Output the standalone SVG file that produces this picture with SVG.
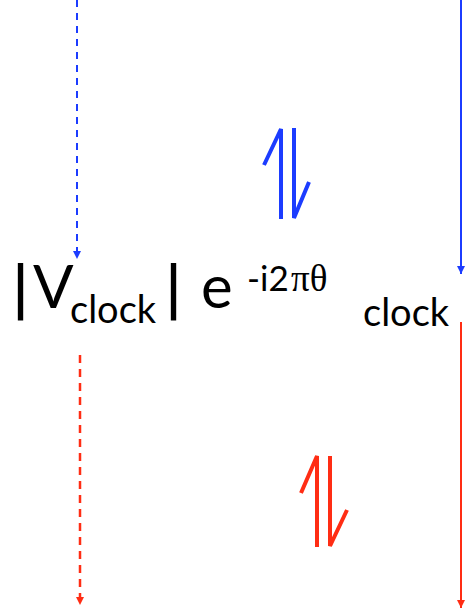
<svg xmlns="http://www.w3.org/2000/svg" width="465" height="611" viewBox="0 0 465 611">
<style>
.big{font-family:Lato,"Open Sans","Liberation Sans",sans-serif;font-size:60px;fill:#000}
.bar{stroke:#000;stroke-width:1.2}
.sub{font-family:Lato,"Open Sans","Liberation Sans",sans-serif;font-size:38px;fill:#000}
.exp{font-family:Lato,"Open Sans","Liberation Sans",sans-serif;font-size:35px;fill:#000}
.greek{font-family:"Liberation Serif","Times New Roman",serif;font-size:37px;fill:#000}
.blue{stroke:#1c3cff;fill:none}
.red{stroke:#ff2d14;fill:none}
.harp{stroke-width:4;stroke-linecap:butt;stroke-linejoin:miter}
</style>
<defs>
<marker id="ab" markerWidth="10" markerHeight="8" refX="8" refY="4" orient="auto" markerUnits="userSpaceOnUse"><path d="M0,0 L8,4 L0,8 z" fill="#1c3cff"/></marker>
<marker id="ar" markerWidth="10" markerHeight="8" refX="8" refY="4" orient="auto" markerUnits="userSpaceOnUse"><path d="M0,0 L8,4 L0,8 z" fill="#ff2d14"/></marker>
</defs>
<g id="connectors">
<line class="blue" x1="77" y1="0" x2="77" y2="259" stroke-width="2" stroke-dasharray="7 6" marker-end="url(#ab)"/>
<line class="blue" x1="461" y1="0" x2="461" y2="274" stroke-width="2" marker-end="url(#ab)"/>
<line class="red" x1="80" y1="355" x2="80" y2="605" stroke-width="2.5" stroke-dasharray="8 6" marker-end="url(#ar)"/>
<line class="red" x1="461" y1="322" x2="461" y2="608" stroke-width="2" marker-end="url(#ar)"/>
</g>
<g id="harpoon-blue">
<path class="blue harp" d="M264,165 L281,129 L281,219"/>
<path class="blue harp" d="M294,128 L294,218 L309,182"/>
</g>
<g id="harpoon-red">
<path class="red harp" d="M301,493 L317,456 L317,547"/>
<path class="red harp" d="M330,456 L330,546 L347,510"/>
</g>
<g id="formula">
<text class="big bar" x="13" y="310">|</text>
<text class="big" x="33" y="308">V</text>
<text class="sub" x="70" y="323">clock</text>
<text class="big bar" x="166" y="310">|</text>
<text class="big" x="201" y="308">e</text>
<text class="exp" x="247" y="291">-i2</text>
<text class="greek" x="291" y="291">πθ</text>
<text class="sub" x="363" y="326">clock</text>
</g>
</svg>
